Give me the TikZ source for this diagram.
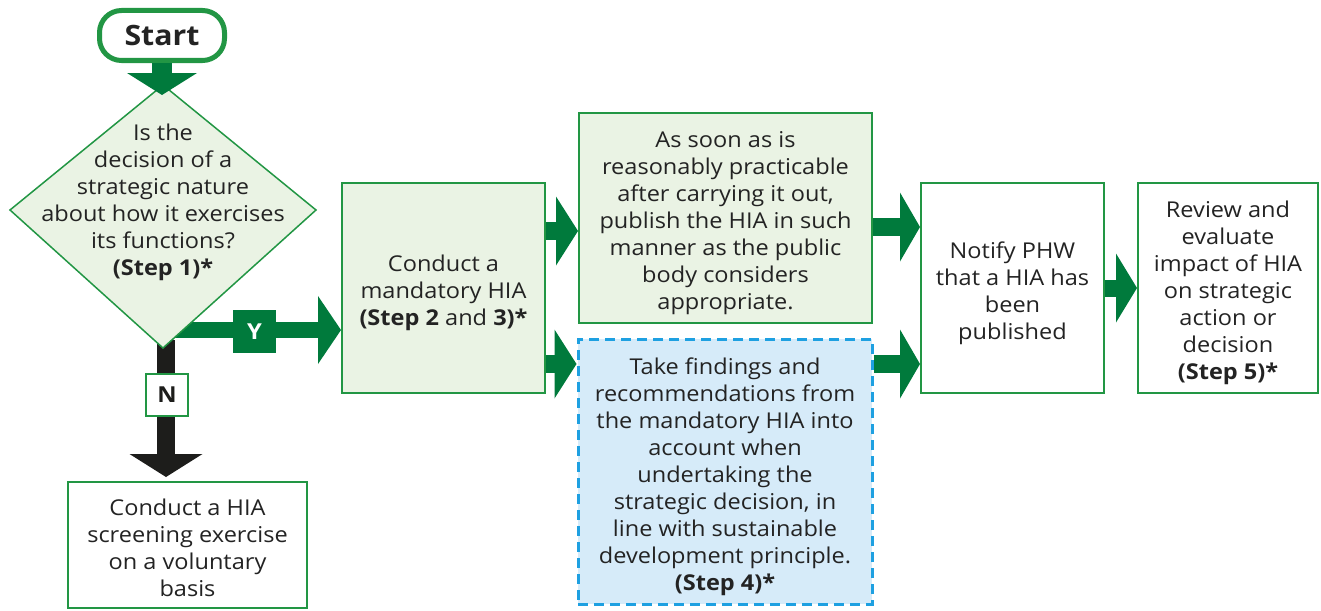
\documentclass[tikz,border=0pt]{standalone}
\usepackage{fontspec}
\setmainfont{Open Sans}[FakeStretch=1.08]
\usetikzlibrary{arrows.meta,backgrounds,calc}
\definecolor{gborder}{RGB}{34,150,68}
\definecolor{garrow}{RGB}{0,122,60}
\definecolor{lgreen}{RGB}{234,243,228}
\definecolor{lblue}{RGB}{214,235,249}
\definecolor{dblue}{RGB}{30,160,225}
\definecolor{txt}{RGB}{35,35,35}
\definecolor{blk}{RGB}{29,29,27}
\newcommand{\FirstStrut}{\rule{0pt}{27pt}}
\newcommand{\LastStrut}{\rule[-6pt]{0pt}{6pt}}
\tikzset{
  bodytext/.style={font=\fontsize{21.8}{27}\selectfont, text=txt, align=center, inner sep=0pt},
  gbox/.style={bodytext, draw=gborder, line width=2pt, fill=lgreen, rectangle},
  wbox/.style={bodytext, draw=gborder, line width=2pt, fill=white, rectangle},
  bbox/.style={bodytext, draw=dblue, line width=3pt, dash pattern=on 10pt off 6pt, fill=lblue, rectangle},
  bigarrow/.style={draw=garrow, line width=18pt, -{Triangle[length=22pt,width=69pt,line width=0pt]}},
  blkarrow/.style={draw=blk, line width=18pt, -{Triangle[length=23pt,width=73pt,line width=0pt]}},
  startarrow/.style={draw=garrow, line width=20pt, -{Triangle[length=22pt,width=70pt,line width=0pt]}},
}
\begin{document}
\begin{tikzpicture}[x=1pt,y=-1pt]
\useasboundingbox (0,0) rectangle (1321,610);
\pgfdeclarelayer{bg}
\pgfsetlayers{bg,main}

% Diamond
\coordinate (dtop) at (163,85);
\coordinate (dright) at (316,210);
\coordinate (dbot) at (163,348);
\coordinate (dleft) at (10,210);
\draw[draw=gborder, line width=1.5pt, fill=lgreen] (dtop) -- (dright) -- (dbot) -- (dleft) -- cycle;
\node[bodytext] (dec) at (163,197) {\FirstStrut Is the\\decision of a\\strategic nature\\about how it exercises\\its functions?\\\textbf{(Step 1)*}\LastStrut};

% Start
\node[draw=gborder, line width=5pt, rounded corners=22pt, fill=white, minimum width=125pt, minimum height=50pt, inner sep=0pt, font=\fontsize{28}{32}\selectfont\bfseries, text=txt] (start) at (162,35.5) {Start};
\coordinate (starttip) at (162,95);
\draw[startarrow] (start.south) -- (starttip);

% Boxes
\node[gbox, minimum width=203pt, minimum height=210pt] (conduct) at (443.5,288) {\FirstStrut Conduct a\\mandatory HIA\\\textbf{(Step 2} and \textbf{3)*}\LastStrut};
\node[gbox, minimum width=293pt, minimum height=210pt] (publish) at (725.5,218) {\FirstStrut As soon as is\\reasonably practicable\\after carrying it out,\\publish the HIA in such\\manner as the public\\body considers\\appropriate.\LastStrut};
\node[bbox, minimum width=294pt, minimum height=265pt] (take) at (725,471.5) {\FirstStrut Take findings and\\recommendations from\\the mandatory HIA into\\account when\\undertaking the\\strategic decision, in\\line with sustainable\\development principle.\\\textbf{(Step 4)*}\LastStrut};
\node[wbox, minimum width=183pt, minimum height=210pt] (notify) at (1012.5,288) {\FirstStrut Notify PHW\\that a HIA has\\been\\published\LastStrut};
\node[wbox, minimum width=180pt, minimum height=210pt] (review) at (1228,288) {\FirstStrut Review and\\evaluate\\impact of HIA\\on strategic\\action or\\decision\\\textbf{(Step 5)*}\LastStrut};
\node[wbox, minimum width=239pt, minimum height=126pt] (screen) at (187.5,545) {\FirstStrut Conduct a HIA\\screening exercise\\on a voluntary\\basis\LastStrut};

% Y / N arrows behind diamond
\coordinate (ystart) at (170,330);
\coordinate (nstart) at (166,340);
\begin{pgfonlayer}{bg}
\draw[bigarrow, line width=16pt, -{Triangle[length=23pt,width=68pt,line width=0pt]}] (ystart) -- (conduct.west |- ystart);
\draw[blkarrow] (nstart) -- ($(nstart |- screen.north)+(0,-4)$);
\end{pgfonlayer}
\node[fill=garrow, minimum width=43pt, minimum height=43pt, inner sep=0pt, text=white, font=\fontsize{22}{25}\selectfont\bfseries] (ylab) at (254.5,331.5) {Y};
\node[draw=gborder, line width=2pt, fill=white, minimum width=42pt, minimum height=42pt, inner sep=0pt, text=blk, font=\fontsize{22}{25}\selectfont\bfseries] (nlab) at (167,395) {N};

% Right arrows
\draw[bigarrow] (conduct.east |- 0,231) -- (publish.west |- 0,231);
\draw[bigarrow] (conduct.east |- 0,364) -- (take.west |- 0,364);
\draw[bigarrow, -{Triangle[length=20pt,width=69pt,line width=0pt]}] (publish.east |- 0,227) -- (notify.west |- 0,227);
\draw[bigarrow, -{Triangle[length=20pt,width=69pt,line width=0pt]}] (take.east |- 0,364) -- (notify.west |- 0,364);
\draw[bigarrow, line width=17pt, -{Triangle[length=21pt,width=69pt,line width=0pt]}] (notify.east |- 0,288) -- (review.west |- 0,288);
\end{tikzpicture}
\end{document}
